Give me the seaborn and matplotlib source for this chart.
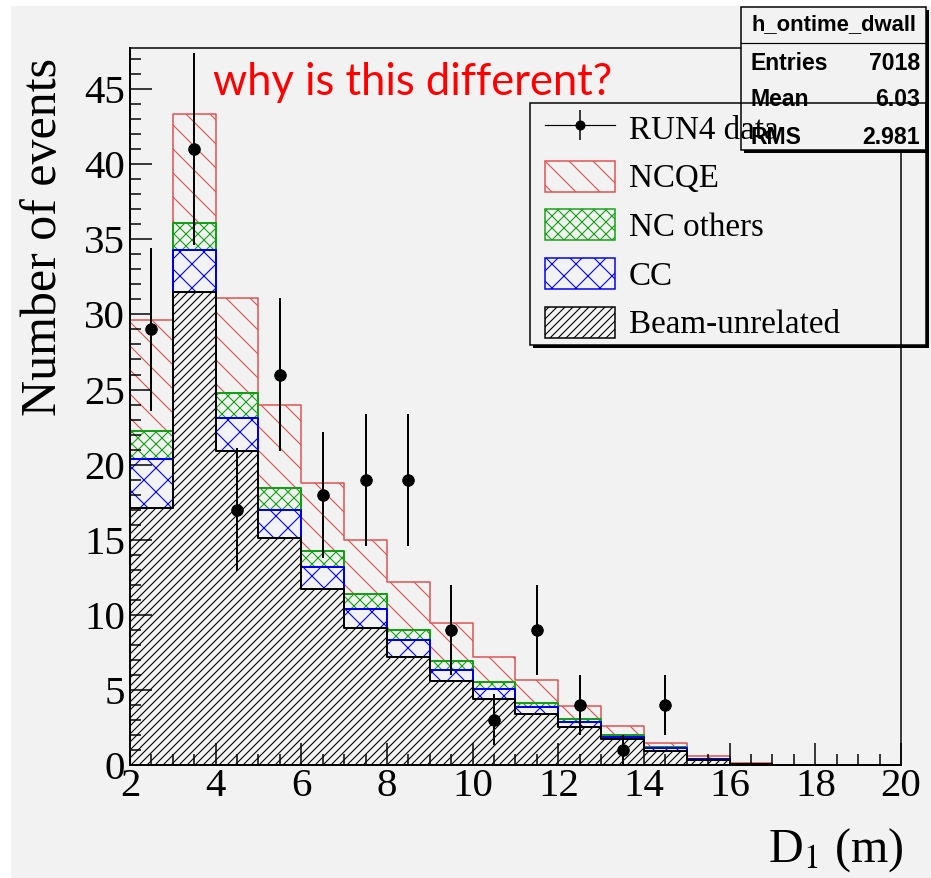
import numpy as np
import pandas as pd
import matplotlib
matplotlib.use("Agg")
import matplotlib.pyplot as plt
import seaborn as sns
from matplotlib.patches import Rectangle, Patch
from matplotlib.lines import Line2D
from matplotlib.ticker import MultipleLocator

# ---------------- data ----------------
bin_edges = [2, 3, 4, 5, 6, 7, 8, 9, 10, 11, 12, 13, 14, 15, 16, 17, 18, 19, 20]
beam_unrelated = [17.1, 31.5, 20.9, 15.1, 11.7, 9.1, 7.2, 5.6, 4.4, 3.4, 2.5, 1.7, 0.9, 0.30, 0.06, 0, 0, 0]
cc = [3.3, 2.8, 2.2, 1.9, 1.5, 1.3, 1.1, 0.75, 0.67, 0.48, 0.38, 0.17, 0.22, 0.09, 0.02, 0, 0, 0]
nc_others = [1.85, 1.8, 1.7, 1.45, 1.05, 1.0, 0.7, 0.6, 0.44, 0.27, 0.18, 0.16, 0.09, 0.03, 0.01, 0, 0, 0]
ncqe = [7.4, 7.25, 6.3, 5.5, 4.5, 3.6, 3.2, 2.5, 1.7, 1.5, 0.87, 0.58, 0.24, 0.19, 0.03, 0, 0, 0]

data_x = [2.5, 3.5, 4.5, 5.5, 6.5, 7.5, 8.5, 9.5, 10.5, 11.5, 12.5, 13.5, 14.5]
data_y = [29, 41, 17, 26, 18, 19, 19, 9, 3, 9, 4, 1, 4]
data_err = [5.4, 6.4, 4.1, 5.1, 4.2, 4.4, 4.4, 3.0, 1.7, 3.0, 2.0, 1.0, 2.0]

legend_labels = ["RUN4 data", "NCQE", "NC others", "CC", "Beam-unrelated"]
stats_title = "h_ontime_dwall"
stats_names = ["Entries", "Mean", "RMS"]
stats_values = ["7018", "6.03", "2.981"]

# ---------------- style ----------------
W, H = 931, 878
DPI = 72
BG = "#f2f2f2"
RED = "#dd5050"
GREEN = "#14a014"
BLUE = "#0000ee"
BLACK = "#000000"
SERIF = ["Liberation Serif", "DejaVu Serif"]
SANS = ["Liberation Sans", "DejaVu Sans"]

plt.rcParams["font.family"] = SERIF
plt.rcParams["mathtext.fontset"] = "stix"
plt.rcParams["hatch.linewidth"] = 1.1


def fx(px):
    return px / W


def fy(py):
    return 1 - py / H


fig = plt.figure(figsize=(W / DPI, H / DPI), dpi=DPI, facecolor="white")
fig.add_artist(Rectangle((fx(11), 0), 1 - fx(11), fy(6), transform=fig.transFigure,
                         facecolor=BG, edgecolor="none", zorder=-10))

ax = fig.add_axes([fx(130), fy(765), fx(901) - fx(130), fy(48) - fy(765)])
ax.set_facecolor(BG)

centers = [(a + b) / 2 for a, b in zip(bin_edges[:-1], bin_edges[1:])]
b = np.array(beam_unrelated)
c1 = b + np.array(cc)
c2 = c1 + np.array(nc_others)
c3 = c2 + np.array(ncqe)

layers = [
    (c3, RED, "\\", 1.5),
    (c2, GREEN, "xx", 2.0),
    (c1, BLUE, "x", 2.0),
    (b, BLACK, "///", 2.0),
]
for vals, col, hatch, lw in layers:
    df = pd.DataFrame({"x": centers, "w": vals})
    sns.histplot(data=df, x="x", weights="w", bins=bin_edges, element="step",
                 fill=True, ax=ax, facecolor=BG, edgecolor=col, hatch=hatch,
                 linewidth=lw, alpha=1)

ax.errorbar(data_x, data_y, yerr=data_err, fmt="o", color="black", ms=11.5,
            elinewidth=2, capsize=0, zorder=5)

ax.set_xlim(2, 20)
ax.set_ylim(0, 47.74)
ax.set_xlabel("")
ax.set_ylabel("")
ax.xaxis.set_major_locator(MultipleLocator(2))
ax.xaxis.set_minor_locator(MultipleLocator(0.5))
ax.yaxis.set_major_locator(MultipleLocator(5))
ax.yaxis.set_minor_locator(MultipleLocator(1))
ax.tick_params(which="both", direction="in", top=False, right=False, width=1.5,
               labelsize=41, colors="black")
ax.tick_params(which="major", length=22)
ax.tick_params(which="minor", length=11)
ax.tick_params(axis="y", pad=5)
ax.tick_params(axis="x", pad=3)
for s in ["left", "bottom"]:
    ax.spines[s].set_linewidth(2)
for s in ["top", "right"]:
    ax.spines[s].set_linewidth(1.5)

# axis titles
fig.text(fx(44), fy(58), "Number of events", rotation=90, ha="center", va="top",
         fontsize=50, family=SERIF)
fig.text(fx(903), fy(862), r"D$_{1}$ (m)", ha="right", va="baseline",
         fontsize=48, family=SERIF)

# red annotation
fig.text(fx(213), fy(95), "why is this different?", color="#ff0000",
         fontsize=43.5, family=["Lato", "DejaVu Sans"], ha="left", va="baseline")


# boxes with ROOT-like shadow
def box(x0, y0, x1, y1, z, face, lw):
    fig.add_artist(Rectangle((fx(x0), fy(y1)), fx(x1) - fx(x0), fy(y0) - fy(y1),
                             transform=fig.transFigure, facecolor=face,
                             edgecolor="black", linewidth=lw, zorder=z))
    fig.add_artist(Rectangle((fx(x1), fy(y1 + 3)), fx(3), fy(y0 + 3) - fy(y1 + 3),
                             transform=fig.transFigure, facecolor="black",
                             edgecolor="none", zorder=z))
    fig.add_artist(Rectangle((fx(x0 + 3), fy(y1 + 3)), fx(x1 + 3) - fx(x0 + 3), fy(y1) - fy(y1 + 3),
                             transform=fig.transFigure, facecolor="black",
                             edgecolor="none", zorder=z))


# stats box (opaque, above axes)
box(741, 7, 926, 150, 5, BG, 1.5)
fig.add_artist(Line2D([fx(741), fx(926)], [fy(43), fy(43)], transform=fig.transFigure,
                      color="black", lw=1.2, zorder=5.5))
fig.text(fx(833.5), fy(25), stats_title, ha="center", va="center", fontsize=22,
         fontweight="bold", family=SANS, zorder=5.5)
for i, (nm, vl) in enumerate(zip(stats_names, stats_values)):
    yy = 63 + 37 * i
    fig.text(fx(750), fy(yy), nm, ha="left", va="center", fontsize=23,
             fontweight="bold", family=SANS, zorder=5.5)
    fig.text(fx(920), fy(yy), vl, ha="right", va="center", fontsize=23,
             fontweight="bold", family=SANS, zorder=5.5)

# legend frame (transparent, on top)
box(530, 103, 926, 345, 6, "none", 1.5)

h_data = (Line2D([], [], color="black", lw=1.2, marker="o", ms=9),
          Line2D([], [], color="black", ls="none", marker="|", ms=30, mew=1.5))
handles = [
    h_data,
    Patch(facecolor=BG, edgecolor=RED, hatch="\\", linewidth=1.5),
    Patch(facecolor=BG, edgecolor=GREEN, hatch="xx", linewidth=1.5),
    Patch(facecolor=BG, edgecolor=BLUE, hatch="x", linewidth=1.5),
    Patch(facecolor=BG, edgecolor=BLACK, hatch="///", linewidth=1.5),
]
leg = fig.legend(handles, legend_labels, loc="upper left",
                 bbox_to_anchor=(fx(545), fy(112)), bbox_transform=fig.transFigure,
                 frameon=False, borderpad=0, borderaxespad=0,
                 handlelength=70 / 33, handleheight=35 / 33, handletextpad=0.42,
                 labelspacing=0.455, prop={"family": SERIF, "size": 33})
leg.set_zorder(7)

fig.savefig("out.png", dpi=DPI, facecolor="white")
